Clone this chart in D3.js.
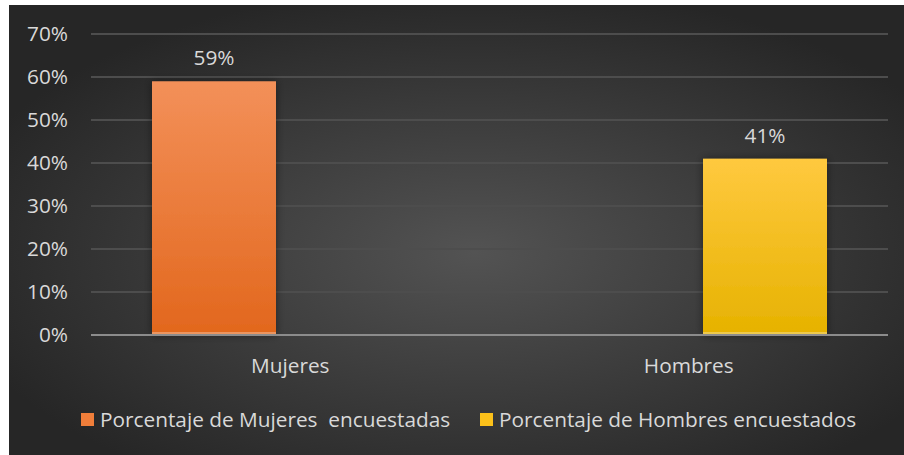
<!DOCTYPE html>
<html>
<head>
<meta charset="utf-8">
<script src="https://cdn.jsdelivr.net/npm/d3@7"></script>
<style>
  body { margin: 0; background: #fff; }
  text { font-family: "Open Sans", Lato, sans-serif; fill: #d9d9d9; }
</style>
</head>
<body>
<svg id="chart"></svg>
<script>
// data
const categories = ["Mujeres", "Hombres"];
const seriesNames = ["Porcentaje de Mujeres  encuestadas", "Porcentaje de Hombres encuestados"];
const values = [59, 41]; // Mujeres in series 0, Hombres in series 1
const yTicks = [0, 10, 20, 30, 40, 50, 60, 70];

const W = 904, H = 455;
const margin = {top: 34, right: 16, bottom: 120, left: 91};
const width = 888 - margin.left;
const height = 335 - margin.top;
const fs = 20.8;

const svg = d3.select("#chart").attr("width", W).attr("height", H);
const defs = svg.append("defs");

const bg = defs.append("radialGradient").attr("id", "bg")
  .attr("cx", "52%").attr("cy", "55%").attr("r", "60%");
bg.append("stop").attr("offset", "0%").attr("stop-color", "#535353");
bg.append("stop").attr("offset", "100%").attr("stop-color", "#262626");

const grads = [
  {id: "g0", top: "#f39059", bottom: "#e2671d"},
  {id: "g1", top: "#ffc93f", bottom: "#e6b200"}
];
grads.forEach(g => {
  const lg = defs.append("linearGradient").attr("id", g.id)
    .attr("x1", 0).attr("y1", 0).attr("x2", 0).attr("y2", 1);
  lg.append("stop").attr("offset", "0%").attr("stop-color", g.top);
  lg.append("stop").attr("offset", "100%").attr("stop-color", g.bottom);
});
const legendColors = ["#f07e3a", "#fcc11a"];

const shadow = defs.append("filter").attr("id", "shadow")
  .attr("x", "-20%").attr("y", "-20%").attr("width", "140%").attr("height", "140%");
shadow.append("feDropShadow").attr("dx", 0).attr("dy", 0).attr("stdDeviation", 4)
  .attr("flood-color", "#000").attr("flood-opacity", 0.45);

svg.append("rect").attr("x", 9).attr("y", 5).attr("width", W - 9).attr("height", H - 5)
  .attr("fill", "url(#bg)");

const g = svg.append("g").attr("transform", `translate(${margin.left},${margin.top})`);

const x = d3.scaleBand().domain(categories).range([0, width]);
const xs = d3.scaleBand().domain(d3.range(seriesNames.length)).range([0, x.bandwidth()])
  .paddingInner(0.187).paddingOuter(0.4);
const y = d3.scaleLinear().domain([0, 70]).range([height, 0]);

// gridlines
g.append("g").selectAll("line").data(yTicks.filter(d => d > 0)).join("line")
  .attr("x1", 0).attr("x2", width)
  .attr("y1", d => y(d)).attr("y2", d => y(d))
  .attr("stroke", "#4d4d4d").attr("stroke-width", 2);

// y axis
const yAxis = d3.axisLeft(y).tickValues(yTicks).tickFormat(d => d + "%").tickSize(0).tickPadding(23);
const yAxisG = g.append("g").call(yAxis);
yAxisG.select(".domain").remove();
yAxisG.selectAll("text").attr("font-size", fs).attr("fill", "#d9d9d9").attr("font-family", null);

// bars
const bars = g.append("g").selectAll("g").data(values).join("g")
  .attr("transform", (d, i) => `translate(${x(categories[i]) + xs(i)},0)`);
bars.append("rect")
  .attr("x", 0).attr("width", xs.bandwidth())
  .attr("y", d => y(d)).attr("height", d => height - y(d))
  .attr("fill", (d, i) => `url(#g${i})`)
  .attr("filter", "url(#shadow)");
bars.append("rect")
  .attr("x", 0).attr("width", xs.bandwidth())
  .attr("y", height - 3).attr("height", 2)
  .attr("fill", "#fff").attr("opacity", 0.3);
bars.append("text")
  .attr("x", xs.bandwidth() / 2).attr("y", d => y(d) - 16)
  .attr("text-anchor", "middle").attr("font-size", fs)
  .text(d => d + "%");

// x axis line
g.append("line").attr("x1", 0).attr("x2", width).attr("y1", height).attr("y2", height)
  .attr("stroke", "#8c8c8c").attr("stroke-width", 2);

const xAxis = d3.axisBottom(x).tickSize(0).tickPadding(23);
const xAxisG = g.append("g").attr("transform", `translate(0,${height})`).call(xAxis);
xAxisG.select(".domain").remove();
xAxisG.selectAll("text").attr("font-size", fs).attr("fill", "#d9d9d9").attr("font-family", null);

// legend
const legendX = [81, 480];
const legend = svg.append("g").selectAll("g").data(seriesNames).join("g")
  .attr("transform", (d, i) => `translate(${legendX[i]},413)`);
legend.append("rect").attr("width", 13).attr("height", 13)
  .attr("fill", (d, i) => legendColors[i]);
legend.append("text").attr("x", 19).attr("y", 14)
  .attr("font-size", fs).style("white-space", "pre")
  .text(d => d);
</script>
</body>
</html>
